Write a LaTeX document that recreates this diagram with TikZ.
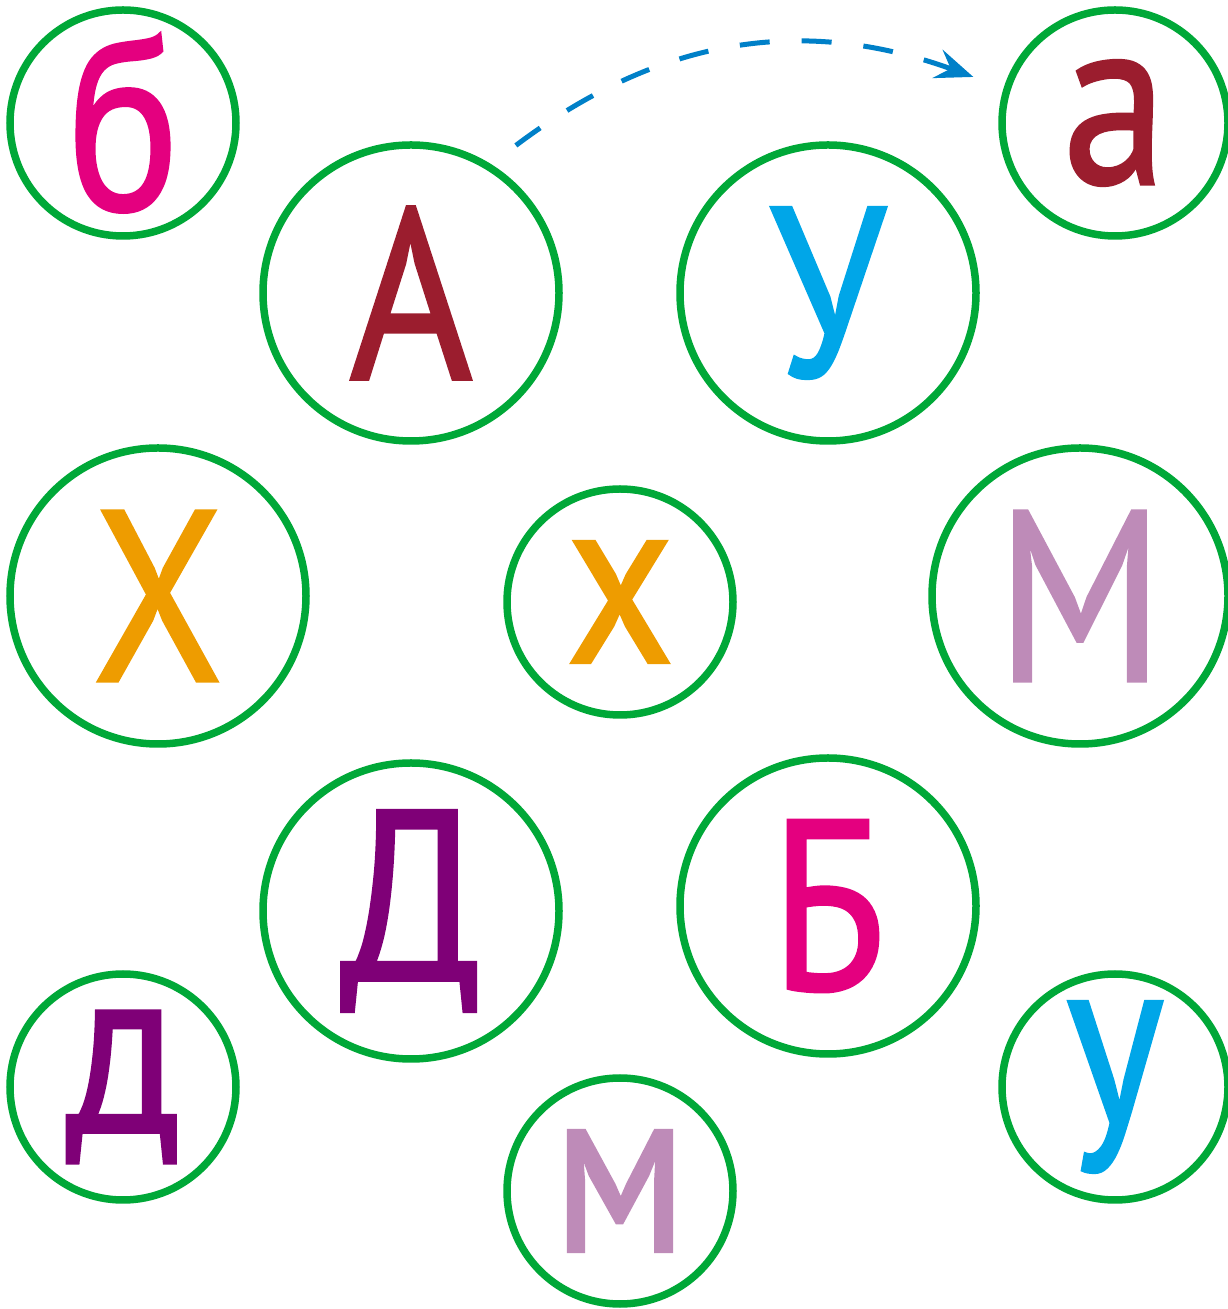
\documentclass[tikz,border=0pt]{standalone}
\usepackage{fontspec}
\usepackage{graphicx}
\setmainfont{PT Sans}
\newfontface\glyphface{PT Sans}[FakeBold=1.2]
\usepackage{tikz}
\usetikzlibrary{positioning, arrows.meta, calc}

\definecolor{ringgreen}{RGB}{0,168,56}
\definecolor{lmagenta}{RGB}{228,0,127}
\definecolor{ldarkred}{RGB}{155,29,46}
\definecolor{lcyan}{RGB}{0,166,232}
\definecolor{lorange}{RGB}{238,156,0}
\definecolor{llilac}{RGB}{190,139,184}
\definecolor{lpurple}{RGB}{127,0,119}
\definecolor{jumpblue}{RGB}{0,128,200}

\newcommand{\glyphsize}{\glyphface\fontsize{243}{250}\selectfont}
\newcommand{\narrow}[1]{\scalebox{0.87}[1]{#1}}

\tikzset{
    ring/.style={circle, draw=ringgreen, line width=7.5pt, inner sep=0pt, font=\glyphsize},
    bigring/.style={ring, minimum size=296pt},
    smallring/.style={ring, minimum size=226pt},
    jump/.style={draw=jumpblue, line width=5pt, dash pattern=on 30pt off 32pt,
        -{Stealth[length=38pt, width=30pt, inset=14pt]}}
}

\begin{document}
\begin{tikzpicture}[x=1pt, y=1pt]
    \useasboundingbox (0,0) rectangle (1227,1309);

    % top row
    \node[smallring, text=lmagenta] (smb) at (123,1186) {\narrow{б}};
    \node[smallring, text=ldarkred] (sma) at (1115,1186) {\narrow{а}};
    \node[bigring, text=ldarkred] (capA) at (411,1016) {\narrow{А}};
    \node[bigring, text=lcyan] (capU) at (828,1016) {\narrow{У}};

    % middle
    \node[bigring, text=lorange] (capH) at (158,713) {\narrow{Х}};
    \node[smallring, text=lorange] (smh) at (620,707) {\narrow{х}};
    \node[bigring, text=llilac] (capM) at (1080,713) {\narrow{М}};

    % bottom
    \node[bigring, text=lpurple] (capD) at (411,398) {\narrow{Д}};
    \node[bigring, text=lmagenta] (capB) at (828,403) {\narrow{Б}};
    \node[smallring, text=lpurple] (smd) at (123,222) {\narrow{д}};
    \node[smallring, text=llilac] (smm) at (620,118) {\narrow{м}};
    \node[smallring, text=lcyan] (smu) at (1115,222) {\narrow{у}};

    \coordinate (jumpfrom) at ($(capA)+(54.6:181)$);
    \coordinate (jumpto) at ($(sma)+(162:149)$);
    \draw[jump] (jumpfrom) to[out=37, in=160] (jumpto);
\end{tikzpicture}
\end{document}
